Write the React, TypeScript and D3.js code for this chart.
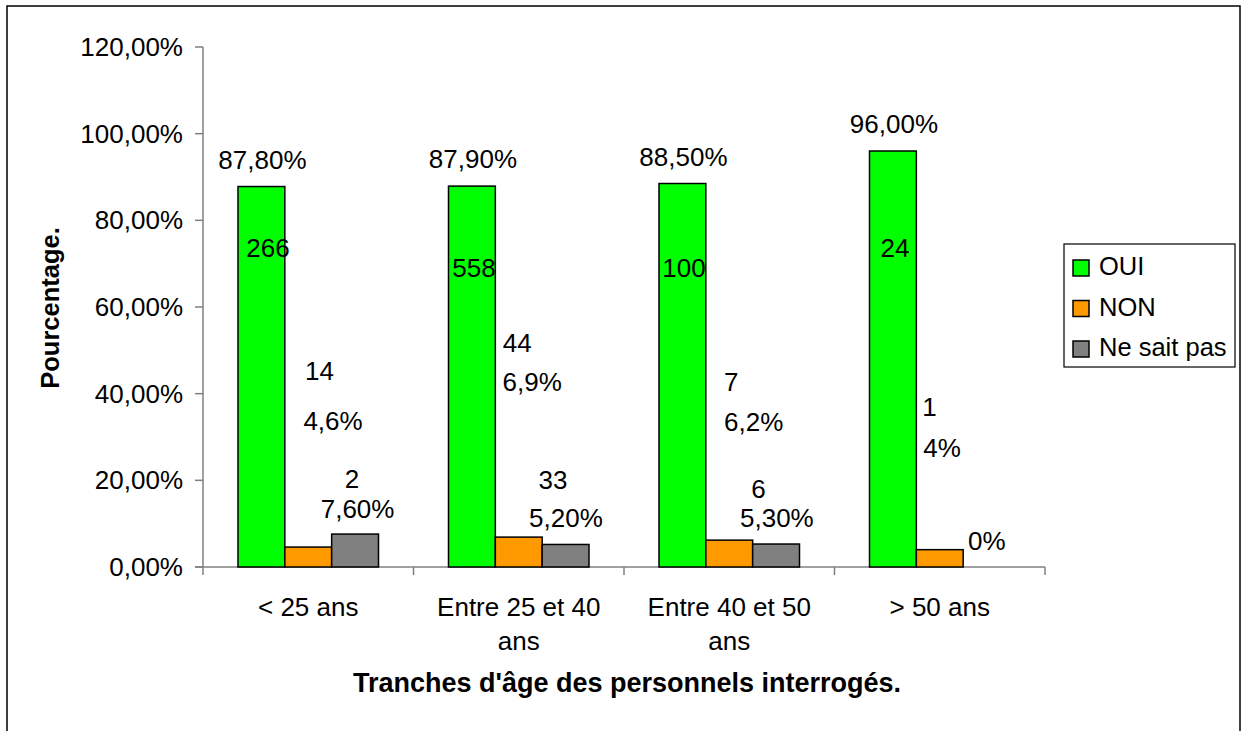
import React from 'react';
import * as d3 from 'd3';

// categories and series
const categories = ['< 25 ans', 'Entre 25 et 40 ans', 'Entre 40 et 50 ans', '> 50 ans'];
const categoryLines = [['< 25 ans'], ['Entre 25 et 40', 'ans'], ['Entre 40 et 50', 'ans'], ['> 50 ans']];
const seriesNames = ['OUI', 'NON', 'Ne sait pas'];
const seriesColors = ['#00FF00', '#FF9900', '#808080'];

// percentages per series
const ouiValues = [87.8, 87.9, 88.5, 96.0];
const nonValues = [4.6, 6.9, 6.2, 4.0];
const nspValues = [7.6, 5.2, 5.3, 0];

// respondent counts per series (null = no label)
const ouiCounts = ['266', '558', '100', '24'];
const nonCounts = ['14', '44', '7', '1'];
const nspCounts = ['2', '33', '6', null];

// percentage label texts
const ouiLabels = ['87,80%', '87,90%', '88,50%', '96,00%'];
const nonLabels = ['4,6%', '6,9%', '6,2%', '4%'];
const nspLabels = ['7,60%', '5,20%', '5,30%', '0%'];

const yTicks = [0, 20, 40, 60, 80, 100, 120];

// hand-placed label offsets (dx from bar centre, dy from bar top), as in the original sheet
const countNudge = [
  [[6.6, 70.5], [2, 91], [1.6, 93.5], [2, 106]],
  [[11.3, -167], [-1.5, -185], [1.9, -149], [-10.2, -134]],
  [[-3, -46], [-12.6, -55.5], [-17.7, -46], [0, 0]],
];
const pctNudge = [
  [[1, -18], [1, -18], [1, -18], [1, -18]],
  [[24.8, -117], [13.5, -146], [24.4, -109], [2.3, -93]],
  [[2.5, -16], [0.4, -17.5], [0.8, -17], [0.2, -17]],
];

const W = 1242;
const H = 731;
const FONT = '"Liberation Sans", Arial, sans-serif';

const App = () => {
  const values = [ouiValues, nonValues, nspValues];
  const counts = [ouiCounts, nonCounts, nspCounts];
  const labels = [ouiLabels, nonLabels, nspLabels];

  const x0 = d3.scaleBand<string>().domain(categories).range([203, 1045]).padding(0);
  const x1 = d3.scaleBand<string>()
    .domain(seriesNames)
    .range([35, x0.bandwidth() - 35])
    .padding(0);
  const y = d3.scaleLinear().domain([0, 120]).range([567, 47]);

  const fmtTick = (v: number) => d3.format('.2f')(v).replace('.', ',') + '%';

  return (
    <div style={{ position: 'absolute', left: 0, top: 0 }}>
      <svg width={W} height={H} style={{ display: 'block', fontFamily: FONT }}>
        <rect x={0} y={0} width={W} height={H} fill="#fff" />
        <rect x={7} y={6} width={1233} height={760} fill="none" stroke="#000" strokeWidth={1.5} />

        {/* y axis */}
        <line x1={203} x2={203} y1={y(120)} y2={y(0)} stroke="#808080" strokeWidth={1.5} />
        {yTicks.map((t) => (
          <g key={t}>
            <line x1={195} x2={203} y1={y(t)} y2={y(t)} stroke="#808080" strokeWidth={1.5} />
            <text x={183} y={y(t)} dy="0.34em" textAnchor="end" fontSize={26} fill="#000">
              {fmtTick(t)}
            </text>
          </g>
        ))}

        {/* x axis */}
        <line x1={195} x2={1045} y1={y(0)} y2={y(0)} stroke="#808080" strokeWidth={1.5} />
        {[...categories.map((c) => x0(c) as number), 1045].map((xv, i) => (
          <line key={i} x1={xv} x2={xv} y1={y(0)} y2={y(0) + 8} stroke="#808080" strokeWidth={1.5} />
        ))}
        {categories.map((c, i) => (
          <text key={c} x={(x0(c) as number) + x0.bandwidth() / 2} y={616} textAnchor="middle" fontSize={26}>
            {categoryLines[i].map((ln, j) => (
              <tspan key={j} x={(x0(c) as number) + x0.bandwidth() / 2} dy={j === 0 ? 0 : 34}>
                {ln}
              </tspan>
            ))}
          </text>
        ))}

        {/* bars */}
        {categories.map((c, ci) => (
          <g key={c} transform={`translate(${x0(c)},0)`}>
            {seriesNames.map((s, si) => {
              const v = values[si][ci];
              if (v <= 0) return null;
              return (
                <rect
                  key={s}
                  x={x1(s)}
                  y={y(v)}
                  width={x1.bandwidth()}
                  height={y(0) - y(v)}
                  fill={seriesColors[si]}
                  stroke="#000"
                  strokeWidth={1.5}
                />
              );
            })}
          </g>
        ))}

        {/* data labels */}
        {categories.map((c, ci) =>
          seriesNames.map((s, si) => {
            const cx = (x0(c) as number) + (x1(s) as number) + x1.bandwidth() / 2;
            const top = y(values[si][ci]);
            const cnt = counts[si][ci];
            const [cdx, cdy] = countNudge[si][ci];
            const [pdx, pdy] = pctNudge[si][ci];
            return (
              <g key={`${c}-${s}`} fontSize={26} fill="#000" textAnchor="middle">
                {cnt !== null && (
                  <text x={cx + cdx} y={top + cdy}>{cnt}</text>
                )}
                <text x={cx + pdx} y={top + pdy}>{labels[si][ci]}</text>
              </g>
            );
          })
        )}

        {/* axis titles */}
        <text
          transform="translate(59,308) rotate(-90)"
          textAnchor="middle"
          fontSize={25.5}
          fontWeight="bold"
        >
          Pourcentage.
        </text>
        <text x={627} y={692} textAnchor="middle" fontSize={27} fontWeight="bold">
          Tranches d'âge des personnels interrogés.
        </text>

        {/* legend */}
        <rect x={1064} y={244} width={171} height={123} fill="#fff" stroke="#000" strokeWidth={1.2} />
        {seriesNames.map((s, i) => (
          <g key={s} transform={`translate(1073,${260 + i * 40.5})`}>
            <rect x={0} y={0} width={16} height={16} fill={seriesColors[i]} stroke="#000" strokeWidth={1.5} />
            <text x={26} y={15} fontSize={25.5}>{s}</text>
          </g>
        ))}
      </svg>
    </div>
  );
};

export default App;
